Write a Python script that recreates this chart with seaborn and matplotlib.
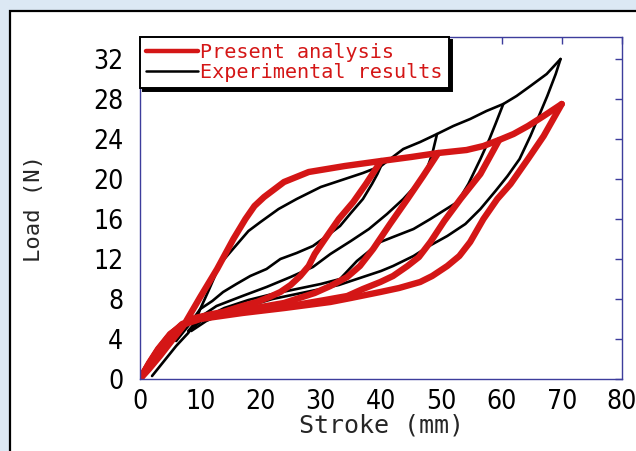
# load-stroke hysteresis: model (red) vs experiment (black)

import matplotlib
matplotlib.use("Agg")
import matplotlib.pyplot as plt
from matplotlib.lines import Line2D
from matplotlib.patches import Rectangle
import seaborn as sns

# present analysis: loading envelope
model_load_x = [0, 1.5, 3.3, 5.5, 7.2, 10, 12.8, 15.5, 17.5, 19, 20.6, 23.9, 28, 34, 40, 45, 49.5, 54.2, 57, 59.6, 62, 64.4, 67, 70]
model_load_y = [0, 1, 2.3, 4, 5.3, 8.2, 11, 14, 16, 17.3, 18.2, 19.7, 20.7, 21.3, 21.8, 22.2, 22.6, 22.9, 23.3, 23.9, 24.5, 25.3, 26.3, 27.5]

# present analysis: unloading branches (stroke 40, 50, 60, 70 mm)
model_un40_x = [40, 37.5, 35.4, 33, 30.7, 29, 28, 26.6, 25, 23.3, 21.5, 19.4, 17, 13.8, 12, 9.1, 7, 5, 3, 1.5, 0]
model_un40_y = [21.8, 19.5, 17.7, 16, 14, 12.5, 11.3, 10.3, 9.4, 8.7, 8.2, 7.7, 7.3, 6.7, 6.5, 6.1, 5.4, 4.5, 3, 1.6, 0]
model_un50_x = [49.5, 47, 44.4, 41.5, 38.7, 36.5, 34.4, 31.6, 29, 23.9, 17.2, 10.4, 7, 5, 3, 1.5, 0]
model_un50_y = [22.6, 20.3, 18, 15.5, 13, 11.3, 10.2, 9.3, 8.6, 7.6, 6.9, 6.2, 5.5, 4.4, 2.9, 1.5, 0]
model_un60_x = [59.6, 56.5, 53.2, 50.5, 48.2, 46.3, 44.4, 42, 39.9, 37, 34.4, 30.7, 23.9, 14.5, 9.1, 7, 5, 3, 1.5, 0]
model_un60_y = [23.9, 20.5, 18, 15.8, 13.7, 12.2, 11.3, 10.3, 9.7, 9, 8.3, 7.9, 7.2, 6.5, 6, 5.4, 4.4, 2.9, 1.5, 0]
model_un70_x = [70, 67, 64.4, 61.5, 59.3, 57, 54.8, 53, 51, 48.5, 46.5, 43, 39.9, 35, 31.6, 24, 17, 10, 7, 5, 3, 1.5, 0]
model_un70_y = [27.5, 24.3, 22, 19.5, 18, 16, 13.7, 12.3, 11.3, 10.3, 9.7, 9.1, 8.7, 8.1, 7.7, 7.1, 6.6, 6, 5.4, 4.4, 2.9, 1.5, 0]

# experimental results: loading curve
exp_load_x = [2, 4, 6, 8, 9, 10, 11.5, 13.3, 15, 18, 20, 23, 26, 30, 33, 37, 40, 43.7, 46.5, 49.3, 52, 54.8, 57.5, 60.3, 62.5, 64.8, 67.5, 69.8]
exp_load_y = [0.3, 1.8, 3.3, 4.6, 5.5, 7, 9, 11.5, 12.7, 14.8, 15.7, 17, 18, 19.2, 19.8, 20.6, 21.3, 23, 23.7, 24.5, 25.3, 26, 26.8, 27.5, 28.3, 29.3, 30.5, 32]

# experimental results: unloading curves
exp_un40_x = [40, 39.4, 38.5, 37, 35, 33.2, 31, 28.7, 26, 23.3, 21, 18.3, 16, 13.8, 12, 10, 8, 6]
exp_un40_y = [21.3, 20.5, 19.5, 18, 16.6, 15.3, 14.3, 13.3, 12.6, 12, 11, 10.3, 9.5, 8.7, 7.8, 7, 5.3, 3.8]
exp_un50_x = [49.3, 48.5, 47.5, 46, 43.7, 41, 38, 35, 31.6, 28.7, 25, 21, 17, 12.7, 10, 8]
exp_un50_y = [24.5, 22.5, 20.8, 19.5, 18, 16.5, 15, 13.8, 12.5, 11.2, 10.2, 9.2, 8.3, 7.3, 6.2, 4.8]
exp_un60_x = [60.3, 59, 58, 56.5, 54.5, 52.7, 50.3, 48.2, 45.4, 42, 39.9, 36, 33.2, 30, 26, 22, 18, 14, 11, 8.5]
exp_un60_y = [27.5, 25.5, 24, 22, 19.5, 17.7, 16.8, 16, 15, 14.2, 13.7, 11.8, 10, 9.5, 9, 8.5, 7.9, 7.1, 6.2, 5]
exp_un70_x = [69.8, 69, 67.6, 66, 64.8, 63, 61, 59, 56.5, 54, 51, 48, 45.4, 42, 40, 36, 33, 30, 26, 22, 18, 14, 11, 8.5]
exp_un70_y = [32, 30.5, 28.3, 26, 24.3, 22, 20.3, 18.8, 17, 15.5, 14.3, 13.3, 12.3, 11.3, 10.8, 10, 9.4, 9, 8.5, 8, 7.3, 6.6, 5.8, 4.8]

x_ticks = [0, 10, 20, 30, 40, 50, 60, 70, 80]
y_ticks = [0, 4, 8, 12, 16, 20, 24, 28, 32]
legend_labels = ['Present analysis', 'Experimental results']

RED = '#d41616'
SPINE = '#3d3d9c'


def main():
    sns.set_style('white')
    # condensed face for the tick numbers
    plt.rcParams['font.family'] = ['DejaVu Sans']
    plt.rcParams['font.stretch'] = 'condensed'

    fig = plt.figure(figsize=(6.36, 4.51), dpi=100, facecolor='#dce8f4')
    # white panel with black frame, behind the axes
    fig.patches.append(Rectangle((10 / 636, -0.1), 1.2, 1.1 - 11 / 451,
                                 transform=fig.transFigure, facecolor='white',
                                 edgecolor='black', linewidth=1.6, zorder=-10))

    ax = fig.add_axes([140 / 636, 1 - 379 / 451, 482 / 636, 342 / 451])
    ax.set_facecolor('white')

    # experimental curves first so the model sits on top
    exp_curves = [(exp_load_x, exp_load_y), (exp_un40_x, exp_un40_y), (exp_un50_x, exp_un50_y),
                  (exp_un60_x, exp_un60_y), (exp_un70_x, exp_un70_y)]
    for cx, cy in exp_curves:
        sns.lineplot(x=cx, y=cy, sort=False, estimator=None, color='black', lw=1.9, ax=ax)

    model_curves = [(model_load_x, model_load_y), (model_un40_x, model_un40_y), (model_un50_x, model_un50_y),
                    (model_un60_x, model_un60_y), (model_un70_x, model_un70_y)]
    for cx, cy in model_curves:
        sns.lineplot(x=cx, y=cy, sort=False, estimator=None, color=RED, lw=4.6, ax=ax,
                     solid_capstyle='round', solid_joinstyle='round')

    ax.set_xlim(0, 80)
    ax.set_ylim(0, 34.2)
    ax.set_xticks(x_ticks)
    ax.set_yticks(y_ticks)
    ax.tick_params(direction='in', length=5, width=1, color=SPINE, top=True, right=True,
                   labelsize=19, labelcolor='black')
    ax.tick_params(axis='y', pad=12)
    ax.tick_params(axis='x', pad=7)
    for s in ax.spines.values():
        s.set_color(SPINE)
        s.set_linewidth(1)

    ax.set_xlabel('Stroke (mm)', fontsize=18, family='DejaVu Sans Mono', labelpad=-1)
    ax.set_ylabel('Load (N)', fontsize=16, family='DejaVu Sans Mono', labelpad=35)

    handles = [Line2D([], [], color=RED, lw=3.2), Line2D([], [], color='black', lw=1.8)]
    leg = ax.legend(handles, legend_labels, loc='upper left', bbox_to_anchor=(0, 1),
                    borderaxespad=0, fancybox=False, edgecolor='black', framealpha=1,
                    shadow={'color': 'black', 'alpha': 1}, labelcolor=RED,
                    prop={'family': 'DejaVu Sans Mono', 'size': 14.5},
                    handlelength=2.6, handletextpad=0.1, borderpad=0.3, labelspacing=0.05)
    leg.get_frame().set_linewidth(1.4)

    fig.savefig('out.png', dpi=100, facecolor=fig.get_facecolor())


if __name__ == "__main__":
    main()
